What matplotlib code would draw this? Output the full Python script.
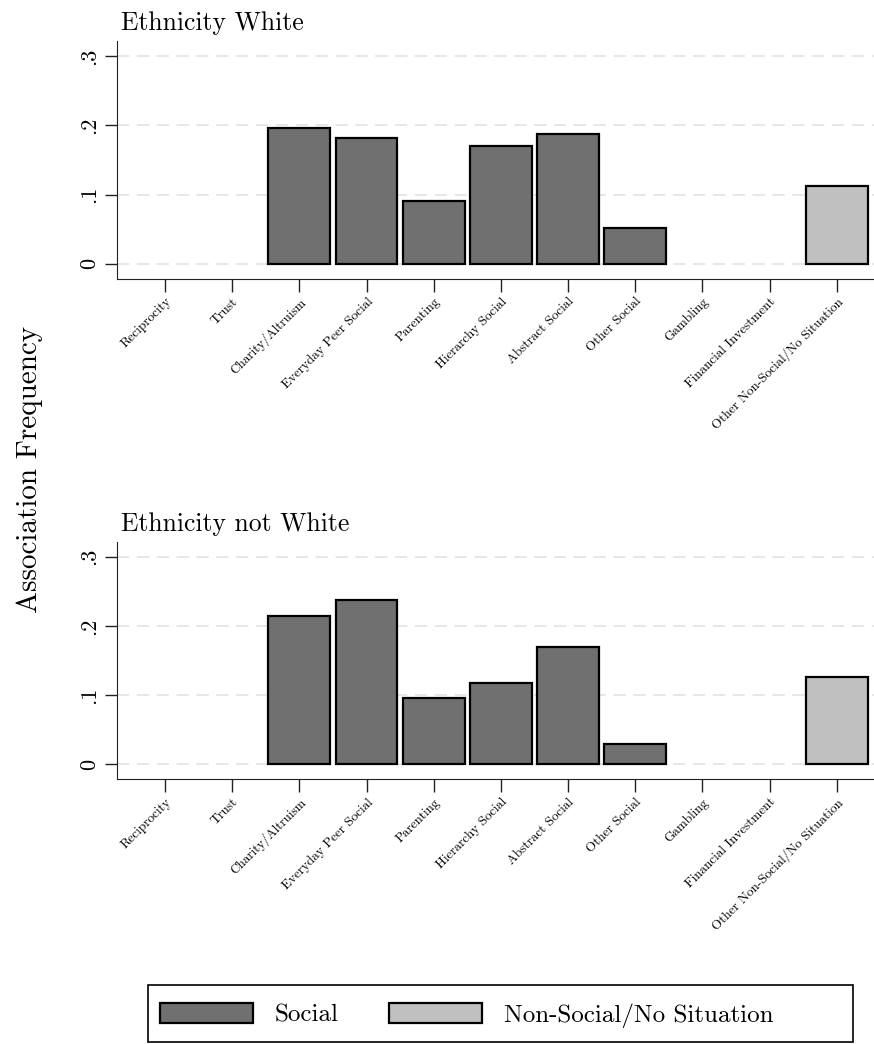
import numpy as np
import matplotlib
matplotlib.use("Agg")
import matplotlib.pyplot as plt
from matplotlib.patches import Patch, Rectangle

plt.rcParams["font.family"] = ["cmr10", "DejaVu Serif"]
plt.rcParams["axes.formatter.use_mathtext"] = True

categories = ["Reciprocity", "Trust", "Charity/Altruism", "Everyday Peer Social",
              "Parenting", "Hierarchy Social", "Abstract Social", "Other Social",
              "Gambling", "Financial Investment", "Other Non-Social/No Situation"]
is_social = [True, True, True, True, True, True, True, True, False, False, False]

white = [0, 0, 0.196, 0.181, 0.090, 0.170, 0.187, 0.052, 0, 0, 0.112]
not_white = [0, 0, 0.215, 0.238, 0.096, 0.118, 0.170, 0.029, 0, 0, 0.126]

panel_titles = ["Ethnicity White", "Ethnicity not White"]
yticks = [0, 0.1, 0.2, 0.3]
ytick_labels = ["0", ".1", ".2", ".3"]

dark = "#707070"
light = "#c0c0c0"

fig = plt.figure(figsize=(8.74, 10.44), dpi=100)
ax_top = fig.add_axes([0.1339, 0.7330, 0.8661, 0.2277])
ax_bot = fig.add_axes([0.1339, 0.2534, 0.8661, 0.2277])

x = np.arange(len(categories))
for ax, vals, title in zip([ax_top, ax_bot], [white, not_white], panel_titles):
    vals = np.array(vals)
    colors = np.array([dark if s else light for s in is_social])
    keep = vals > 0  # empty categories get no bar at all
    ax.bar(x[keep], vals[keep], width=0.92, color=colors[keep],
           edgecolor="black", linewidth=1.6, zorder=3)
    ax.set_xlim(-0.714, 10.555)
    ax.set_ylim(-0.0217, 0.3217)
    ax.set_yticks(yticks)
    ax.set_yticklabels(ytick_labels, rotation=90, va="center", fontsize=16)
    ax.set_xticks(x)
    ax.set_xticklabels(categories, rotation=45, ha="right", rotation_mode="anchor",
                       fontsize=9.5)
    for y in yticks:
        ax.axhline(y, color="#e0e0e0", linewidth=1.1, dashes=(8, 5), zorder=1)
    ax.spines["top"].set_visible(False)
    ax.spines["right"].set_visible(False)
    ax.spines["left"].set_color("#222222")
    ax.spines["bottom"].set_color("#222222")
    ax.tick_params(axis="both", length=9, width=1, color="#222222")
    ax.tick_params(axis="y", pad=4)
    ax.tick_params(axis="x", pad=3)
    ax.set_title(title, loc="left", fontsize=18.5, pad=8, x=0.005)

fig.text(0.034, 0.55, "Association Frequency", rotation=90, ha="center",
         va="center", fontsize=21)

handles = [Patch(facecolor=dark, edgecolor="black", linewidth=1.6, label="Social"),
           Patch(facecolor=light, edgecolor="black", linewidth=1.6,
                 label="Non-Social/No Situation")]
leg = fig.legend(handles=handles, loc="center left",
                 bbox_to_anchor=(160 / 874, 1 - 1015 / 1044),
                 ncol=2, fontsize=18, frameon=False,
                 handlelength=3.7, handleheight=0.9,
                 columnspacing=2.0, handletextpad=0.9, borderpad=0,
                 borderaxespad=0)

# Stata-style legend box, wider than its content
fig.add_artist(Rectangle((148 / 874, 2 / 1044), 705 / 874, 57 / 1044,
                         transform=fig.transFigure, fill=False,
                         edgecolor="black", linewidth=1.2))

fig.savefig("out.png", dpi=100, facecolor="white")
